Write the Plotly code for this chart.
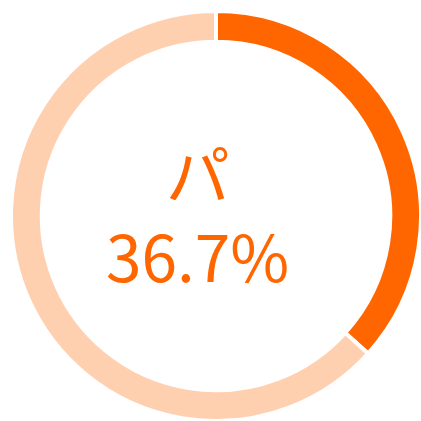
import plotly.graph_objects as go

# Share shown by the ring
labels = ["パ", "その他"]
values = [36.7, 63.3]
slice_colors = ["#FF6600", "#FFD0B0"]
center_label = "パ"
center_value = "36.7%"

fig = go.Figure(
    go.Pie(
        labels=labels,
        values=values,
        hole=0.85,
        sort=False,
        direction="clockwise",
        rotation=0,
        textinfo="none",
        hoverinfo="skip",
        marker=dict(colors=slice_colors, line=dict(color="#FFFFFF", width=4)),
        showlegend=False,
    )
)

# Two-line caption in the hole
fig.add_annotation(
    text=f"{center_label}<br>{center_value}",
    x=0.4537, y=0.508, xref="paper", yref="paper",
    xanchor="center", yanchor="middle", align="center", showarrow=False,
    font=dict(family="Noto Sans CJK JP", size=64, color="#FF6600"),
)

fig.update_layout(
    width=421,
    height=421,
    margin=dict(l=11, t=11, r=0, b=0, pad=0),
    paper_bgcolor="#FFFFFF",
    plot_bgcolor="#FFFFFF",
)

fig.write_html("out.html")
